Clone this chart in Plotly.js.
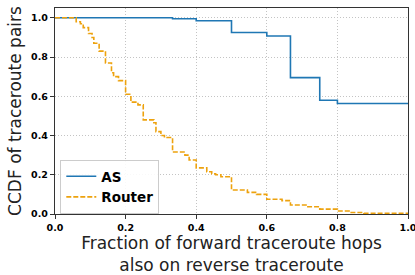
<!DOCTYPE html>
<html>
<head>
<meta charset="utf-8">
<script src="https://cdn.plot.ly/plotly-3.0.1.min.js"></script>
<style>html,body{margin:0;padding:0;background:#fff;}#chart{width:415px;height:275px;}</style>
</head>
<body>
<div id="chart"></div>
<script>
const asX = [0, 0.333, 0.4, 0.5, 0.6, 0.667, 0.75, 0.8, 1.0];
const asY = [1.0, 0.995, 0.985, 0.925, 0.907, 0.695, 0.58, 0.563, 0.563];

const routerX = [0, 0.06, 0.072, 0.08, 0.095, 0.105, 0.11, 0.125, 0.143, 0.16, 0.166, 0.18, 0.2, 0.215, 0.235, 0.25, 0.28, 0.286, 0.3, 0.31, 0.333, 0.368, 0.38, 0.4, 0.43, 0.444, 0.455, 0.47, 0.5, 0.545, 0.571, 0.6, 0.643, 0.667, 0.714, 0.75, 0.8, 0.833, 0.875, 1.0];
const routerY = [1.0, 0.98, 0.97, 0.95, 0.92, 0.90, 0.87, 0.83, 0.77, 0.72, 0.70, 0.68, 0.61, 0.57, 0.556, 0.48, 0.465, 0.42, 0.40, 0.39, 0.316, 0.30, 0.275, 0.235, 0.215, 0.205, 0.20, 0.19, 0.122, 0.11, 0.10, 0.075, 0.068, 0.046, 0.037, 0.025, 0.015, 0.008, 0.004, 0.004];

const xTicks = [0, 0.2, 0.4, 0.6, 0.8, 1.0];
const yTicks = [0, 0.2, 0.4, 0.6, 0.8, 1.0];
const tickLabels = ['0.0', '0.2', '0.4', '0.6', '0.8', '1.0'];

const traces = [
  {x: asX, y: asY, name: 'AS', mode: 'lines', line: {shape: 'hv', color: '#1f77b4', width: 1.6}},
  {x: routerX, y: routerY, name: 'Router', mode: 'lines', line: {shape: 'hv', color: '#eda20e', width: 1.6, dash: '5px,2px'}}
];

const axisCommon = {
  showline: true, linecolor: '#333', linewidth: 1.2, mirror: true,
  ticks: 'outside', ticklen: 4, tickcolor: '#333', tickwidth: 1,
  showgrid: true, gridcolor: '#c4c4c4', griddash: '1px,2px', gridwidth: 1,
  zeroline: false, ticklabeloverflow: 'allow',
  tickfont: {family: 'DejaVu Sans', size: 9.5, color: '#000', weight: 'bold'}
};

const layout = {
  width: 415, height: 275,
  margin: {l: 55, r: 7, t: 8, b: 61},
  paper_bgcolor: '#fff', plot_bgcolor: '#fff',
  showlegend: true,
  legend: {x: 0.015, y: 0.262, xanchor: 'left', yanchor: 'top', bgcolor: 'rgba(255,255,255,0.9)', bordercolor: '#ccc', borderwidth: 1,
           font: {family: 'DejaVu Sans', size: 13.5, color: '#000', weight: 'bold'}, tracegroupgap: 2},
  xaxis: Object.assign({}, axisCommon, {range: [0, 1], tickvals: xTicks, ticktext: tickLabels,
    title: {text: 'Fraction of forward traceroute hops<br>also on reverse traceroute', font: {family: 'DejaVu Sans', size: 17, color: '#222'}, standoff: 2}}),
  yaxis: Object.assign({}, axisCommon, {range: [0, 1.05], tickvals: yTicks, ticktext: tickLabels,
    title: {text: 'CCDF of traceroute pairs', font: {family: 'DejaVu Sans', size: 17, color: '#222'}, standoff: 5}})
};

Plotly.newPlot('chart', traces, layout, {displayModeBar: false, staticPlot: true});
</script>
</body>
</html>
